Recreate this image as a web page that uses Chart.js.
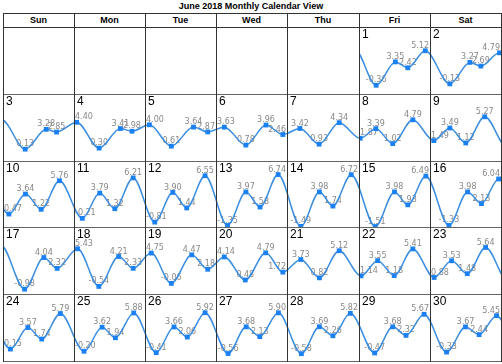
<!DOCTYPE html>
<html>
<head>
<meta charset="utf-8">
<script src="https://cdn.jsdelivr.net/npm/chart.js@4"></script>
<style>
  body { margin: 0; background: #fff; font-family: "Liberation Sans", Arial, sans-serif; }
  #page { position: relative; width: 502px; height: 364px; overflow: hidden; }
  #title { position: absolute; left: 0; top: 0; width: 502px; text-align: center; font-size: 9px; font-weight: bold; line-height: 12px; }
  .hdr { position: absolute; top: 13px; height: 14px; line-height: 14px; text-align: center; font-size: 9px; font-weight: bold; }
  .vline, .hline { position: absolute; background: #333; z-index: 5; }
  .hline.body { background: #666; }
  .cell { position: absolute; }
  .cell canvas { position: absolute; left: 0; top: 0; }
  .daynum { position: absolute; left: 3px; top: 1px; font-size: 12px; line-height: 13px; z-index: 4; }
</style>
</head>
<body>
<div id="page">
  <div id="title"></div>
</div>
<script>
const chartTitle = 'June 2018 Monthly Calendar View';
const weekdays = ['Sun', 'Mon', 'Tue', 'Wed', 'Thu', 'Fri', 'Sat'];
const firstWeekday = 5; // June 1 2018 is a Friday
const daysInMonth = 30;

// tide extremes for each day: hour of day and height
const tideHours = [
    [5.8, 12.3, 16.5, 22.4],   // 1
    [6.7, 13.5, 17.2, 23.5],   // 2
    [7.5, 14.6, 18.1],         // 3
    [0.9, 8.5, 15.7, 19.6],    // 4
    [1.5, 8.9, 16.4, 21.2],    // 5
    [2.8, 10.1, 16.9, 22.6],   // 6
    [4.3, 10.7, 17.4],         // 7
    [0.4, 5.7, 11.4, 18.2],    // 8
    [1.3, 6.7, 12.1, 18.5],    // 9
    [2.0, 7.6, 12.9, 19.1],    // 10
    [2.8, 8.7, 13.8, 20.0],    // 11
    [3.3, 9.4, 14.1, 20.3],    // 12
    [3.9, 10.1, 14.9, 21.0],   // 13
    [4.6, 10.8, 15.3, 21.4],   // 14
    [5.5, 12.0, 16.5, 22.6],   // 15
    [6.4, 12.7, 17.4, 23.2],   // 16
    [7.3, 13.8, 18.3],         // 17
    [1.2, 8.4, 15.1, 20.0],    // 18
    [2.1, 8.9, 15.8, 21.2],    // 19
    [2.8, 9.9, 16.8, 22.6],    // 20
    [4.6, 10.8, 17.4],         // 21
    [0.7, 6.3, 11.9, 18.2],    // 22
    [1.4, 7.3, 12.6, 18.8],    // 23
    [2.5, 8.4, 13.1, 19.4],    // 24
    [3.4, 9.5, 14.0, 20.2],    // 25
    [3.8, 9.8, 14.3, 20.3],    // 26
    [4.1, 10.2, 14.8, 21.1],   // 27
    [4.8, 10.8, 15.3, 21.1],   // 28
    [5.3, 11.4, 15.9, 22.0],   // 29
    [5.6, 12.0, 16.6, 22.5]    // 30
];
const tideHeights = [
    [-0.36, 3.35, 2.42, 5.12],
    [-0.13, 3.27, 2.69, 4.79],
    [0.13, 3.28, 2.85],
    [4.40, 0.30, 3.41, 2.98],
    [4.00, 0.61, 3.64, 2.87],
    [3.63, 0.78, 3.96, 2.46],
    [3.42, 0.93, 4.34],
    [1.87, 3.39, 1.02, 4.79],
    [1.49, 3.49, 1.12, 5.27],
    [0.47, 3.64, 1.22, 5.76],
    [-0.21, 3.79, 1.32, 6.21],
    [-0.81, 3.90, 1.44, 6.55],
    [-1.35, 3.97, 1.58, 6.74],
    [-1.49, 3.98, 1.74, 6.72],
    [-1.51, 3.98, 1.93, 6.49],
    [-1.33, 3.98, 2.13, 6.04],
    [-0.98, 4.04, 2.32],
    [5.43, -0.54, 4.21, 2.33],
    [4.75, -0.06, 4.47, 2.18],
    [4.14, 0.48, 4.79, 1.72],
    [3.73, 0.82, 5.12],
    [1.14, 3.55, 1.18, 5.41],
    [0.88, 3.53, 1.48, 5.64],
    [0.15, 3.57, 1.74, 5.79],
    [-0.20, 3.62, 1.94, 5.88],
    [-0.41, 3.66, 2.06, 5.92],
    [-0.56, 3.68, 2.13, 5.90],
    [-0.58, 3.69, 2.26, 5.82],
    [-0.47, 3.68, 2.32, 5.67],
    [-0.33, 3.67, 2.44, 5.45]
];
// neighbours so the curve runs to the cell edges
const may31Hours = [10.9, 15.6, 22.6];
const may31Heights = [3.4, 2.2, 5.3];
const july1Hours = [6.2, 12.6];
const july1Heights = [-0.15, 3.6];

const colX = [3, 74, 145, 216, 287, 359, 430, 501];
const rowY = [27, 94, 161, 227, 294, 361];
const headerTop = 13;
const pxPerUnit = 6.3;
const zeroFromTop = 56;

const lineColor = '#3b8de0';
const pointColor = '#1b80f2';

const page = document.getElementById('page');
document.getElementById('title').textContent = chartTitle;

function addLine(cls, l, t, w, h) {
    const d = document.createElement('div');
    d.className = cls;
    d.style.left = l + 'px';
    d.style.top = t + 'px';
    d.style.width = w + 'px';
    d.style.height = h + 'px';
    page.appendChild(d);
}

weekdays.forEach((name, i) => {
    const h = document.createElement('div');
    h.className = 'hdr';
    h.style.left = colX[i] + 'px';
    h.style.width = (colX[i + 1] - colX[i]) + 'px';
    h.textContent = name;
    page.appendChild(h);
});

function dayPoints(day, shift) {
    if (day === 0) return may31Hours.map((t, i) => ({ x: t + shift, y: may31Heights[i] }));
    if (day === daysInMonth + 1) return july1Hours.map((t, i) => ({ x: t + shift, y: july1Heights[i] }));
    return tideHours[day - 1].map((t, i) => ({ x: t + shift, y: tideHeights[day - 1][i] }));
}

const valueLabels = {
    id: 'valueLabels',
    beforeDatasetsDraw(chart) {
        const ctx = chart.ctx;
        const area = chart.chartArea;
        const ds = chart.data.datasets[0];
        const meta = chart.getDatasetMeta(0);
        ctx.save();
        ctx.font = '8px "DejaVu Sans"';
        ctx.fillStyle = '#888';
        ctx.textBaseline = 'middle';
        meta.data.forEach((pt, i) => {
            if (!ds.own[i]) return;
            const txt = ds.data[i].y.toFixed(2);
            const w = ctx.measureText(txt).width;
            let x = pt.x - w / 2;
            x = Math.max(area.left + 1, Math.min(x, area.right - w - 1));
            ctx.fillText(txt, x, pt.y - 5);
        });
        ctx.restore();
    }
};

for (let day = 1; day <= daysInMonth; day++) {
    const slot = firstWeekday + day - 1;
    const col = slot % 7;
    const row = Math.floor(slot / 7);
    const w = colX[col + 1] - colX[col];
    const h = rowY[row + 1] - rowY[row];

    const cell = document.createElement('div');
    cell.className = 'cell';
    cell.style.left = colX[col] + 'px';
    cell.style.top = rowY[row] + 'px';
    cell.style.width = w + 'px';
    cell.style.height = h + 'px';
    const num = document.createElement('div');
    num.className = 'daynum';
    num.textContent = day;
    cell.appendChild(num);
    const canvas = document.createElement('canvas');
    canvas.width = w;
    canvas.height = h;
    cell.appendChild(canvas);
    page.appendChild(cell);

    const prev = dayPoints(day - 1, -24);
    const own = dayPoints(day, 0);
    const next = dayPoints(day + 1, 24);
    const data = prev.concat(own, next);
    const ownFlags = data.map((p, i) => i >= prev.length && i < prev.length + own.length);

    const yMax = zeroFromTop / pxPerUnit;
    new Chart(canvas, {
        type: 'line',
        data: {
            datasets: [{
                data: data,
                own: ownFlags,
                borderColor: lineColor,
                borderWidth: 1.5,
                cubicInterpolationMode: 'monotone',
                pointStyle: 'rect',
                pointRadius: ownFlags.map(f => f ? 3.4 : 0),
                pointBackgroundColor: pointColor,
                pointBorderColor: pointColor,
                pointBorderWidth: 0,
                clip: 0
            }]
        },
        options: {
            responsive: false,
            animation: false,
            events: [],
            layout: { padding: 0 },
            plugins: { legend: { display: false }, tooltip: { enabled: false } },
            scales: {
                x: { type: 'linear', min: 0, max: 24, display: false },
                y: { min: yMax - h / pxPerUnit, max: yMax, display: false }
            }
        },
        plugins: [valueLabels]
    });
}

// grid
addLine('hline', colX[0], headerTop, colX[7] - colX[0] + 1, 1);
rowY.forEach((y, i) => addLine(i === 0 ? 'hline' : 'hline body', colX[0], y, colX[7] - colX[0] + 1, 1));
colX.forEach(x => addLine('vline', x, headerTop, 1, rowY[5] - headerTop + 1));
</script>
</body>
</html>
